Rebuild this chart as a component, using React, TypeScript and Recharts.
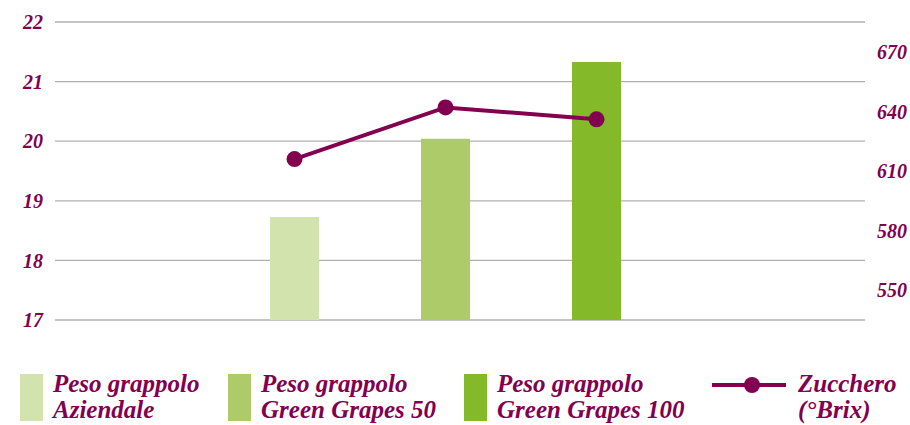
import { ComposedChart, Bar, Line, XAxis, YAxis, CartesianGrid, Cell } from "recharts";

const categories = ["Aziendale", "Green Grapes 50", "Green Grapes 100"];
const pesoGrappolo = [18.73, 20.04, 21.33];
const zucchero = [616, 642, 636];
const leftTicks = [17, 18, 19, 20, 21, 22];
const rightTicks = [550, 580, 610, 640, 670];
const barColors = ["#d3e3ad", "#aecb6a", "#84b92a"];
const legendLabels = [
  ["Peso grappolo", "Aziendale"],
  ["Peso grappolo", "Green Grapes 50"],
  ["Peso grappolo", "Green Grapes 100"],
];

const MAROON = "#82004f";
const FONT = "'Liberation Serif', 'Times New Roman', serif";

const data = categories.map((c, i) => ({
  name: c,
  peso: pesoGrappolo[i],
  zucchero: zucchero[i],
}));

const tickStyle = {
  fill: MAROON,
  fontSize: 20,
  fontStyle: "italic",
  fontWeight: 700,
  fontFamily: FONT,
};

const legendText: React.CSSProperties = {
  color: MAROON,
  fontFamily: FONT,
  fontStyle: "italic",
  fontWeight: 700,
  fontSize: 25,
  lineHeight: "26px",
};

function LegendBlock() {
  const swatchLeft = [20, 228, 464];
  return (
    <div style={{ position: "absolute", left: 0, top: 0, width: 910, height: 425, pointerEvents: "none" }}>
      {legendLabels.map((lines, i) => (
        <div key={i} style={{ position: "absolute", left: swatchLeft[i], top: 374 }}>
          <div style={{ position: "absolute", left: 0, top: 0, width: 23, height: 47, background: barColors[i] }} />
          <div style={{ ...legendText, position: "absolute", left: 33, top: -3 }}>
            <div style={{ whiteSpace: "nowrap" }}>{lines[0]}</div>
            <div style={{ whiteSpace: "nowrap" }}>{lines[1]}</div>
          </div>
        </div>
      ))}
      <svg style={{ position: "absolute", left: 712, top: 375 }} width={74} height={20}>
        <line x1={0} y1={10} x2={74} y2={10} stroke={MAROON} strokeWidth={4} />
        <circle cx={40} cy={10} r={8} fill={MAROON} />
      </svg>
      <div style={{ ...legendText, position: "absolute", left: 798, top: 371 }}>
        <div style={{ whiteSpace: "nowrap" }}>Zucchero</div>
        <div style={{ whiteSpace: "nowrap" }}>(°Brix)</div>
      </div>
    </div>
  );
}

export default function App() {
  return (
    <div style={{ position: "absolute", left: 0, top: 0, width: 910, height: 425, background: "#fff" }}>
      <ComposedChart
        width={910}
        height={425}
        data={data}
        margin={{ top: 22, right: 0, left: 0, bottom: 105 }}
      >
        <CartesianGrid yAxisId="left" vertical={false} stroke="#b0b0b0" strokeWidth={1.3} />
        <XAxis dataKey="name" hide padding={{ left: 164, right: 193 }} />
        <YAxis
          yAxisId="left"
          orientation="left"
          width={55}
          domain={[17, 22]}
          ticks={leftTicks}
          tick={tickStyle}
          tickLine={false}
          axisLine={false}
          tickMargin={6}
        />
        <YAxis
          yAxisId="right"
          orientation="right"
          width={45}
          domain={[535, 685]}
          ticks={rightTicks}
          tick={{ ...tickStyle, textAnchor: "start" }}
          tickLine={false}
          axisLine={false}
          tickMargin={6}
        />
        <Bar yAxisId="left" dataKey="peso" barSize={49} isAnimationActive={false}>
          {data.map((_, i) => (
            <Cell key={i} fill={barColors[i]} />
          ))}
        </Bar>
        <Line
          yAxisId="right"
          dataKey="zucchero"
          stroke={MAROON}
          strokeWidth={4}
          dot={{ r: 8, fill: MAROON, stroke: MAROON, strokeWidth: 0 }}
          isAnimationActive={false}
        />
      </ComposedChart>
      <LegendBlock />
    </div>
  );
}
